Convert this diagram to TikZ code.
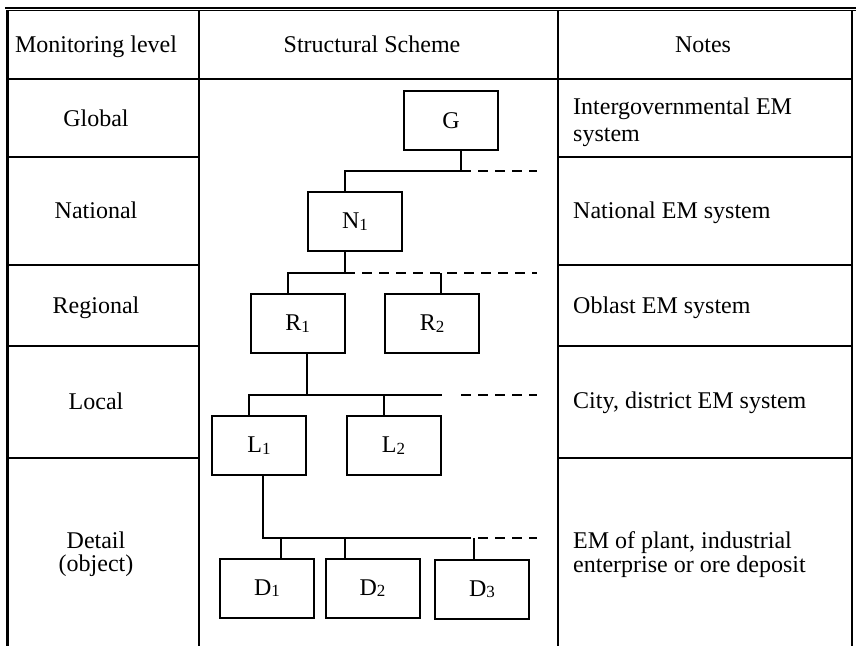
\documentclass[tikz,border=0pt]{standalone}
\usepackage{fontspec}
\setmainfont{Liberation Serif}
\usetikzlibrary{calc}
% small lowered index digit used in the unit names
\newcommand{\idx}[1]{\raisebox{-1.5pt}{\fontsize{17}{17}\selectfont #1}}
\begin{document}
\begin{tikzpicture}[x=1pt,y=-1pt,
  every node/.style={inner sep=0pt},
  txt/.style={font=\fontsize{24}{27}\selectfont},
  txtb/.style={font=\fontsize{24}{23.5}\selectfont},
  unit/.style={draw, line width=2pt, minimum width=94pt, minimum height=59pt,
    font=\fontsize{24}{27}\selectfont},
  link/.style={line width=2pt},
  dashline/.style={line width=2pt, dash pattern=on 10pt off 7pt},
  rule/.style={line width=2pt}]
\useasboundingbox (0,0) rectangle (856,646);
\fill[white] (0,0) rectangle (856,646);

% ---- table frame ----
\draw[line width=2.3pt] (5,7.8) -- (856,7.8);
\draw[line width=1.3pt] (7,10.7) -- (856,10.7);
\draw[line width=3pt] (7.5,10) -- (7.5,646);
\draw[rule] (7.5,79) -- (852,79);
\draw[rule] (199,10.7) -- (199,646);
\draw[rule] (557.5,10.7) -- (557.5,646);
\draw[rule] (852,10.7) -- (852,646);
\foreach \yy in {157,264.5,346,458}{
  \draw[rule] (7.5,\yy) -- (199,\yy);
  \draw[rule] (557.5,\yy) -- (852,\yy);
}

% ---- header ----
\node[txt, anchor=base] (hLevel) at (96,52) {Monitoring level};
\node[txt, anchor=base] (hScheme) at (372,52) {Structural Scheme};
\node[txt, anchor=base] (hNotes) at (703,52) {Notes};

% ---- monitoring levels ----
\node[txt, anchor=base] (lvG) at (96,126) {Global};
\node[txt, anchor=base] (lvN) at (96,218) {National};
\node[txt, anchor=base] (lvR) at (96,313) {Regional};
\node[txt, anchor=base] (lvL) at (96,409) {Local};
\node[txtb, anchor=north, align=center] (lvD) at (96,531.6) {Detail\\(object)};

% ---- notes ----
\node[txt, anchor=north west, align=left] (ntG) at (573,97.6) {Intergovernmental EM\\system};
\node[txt, anchor=base west] (ntN) at (573,218) {National EM system};
\node[txt, anchor=base west] (ntR) at (573,313) {Oblast EM system};
\node[txt, anchor=base west] (ntL) at (573,408) {City, district EM system};
\node[txtb, anchor=north west, align=left] (ntD) at (573,531.6) {EM of plant, industrial\\enterprise or ore deposit};

% ---- structural scheme: units ----
\node[unit] (G)  at (451,120.5) {G};
\node[unit] (N1) at (355,221.5) {N\idx{1}};
\node[unit] (R1) at (297.5,323.5) {R\idx{1}};
\node[unit] (R2) at (432,323.5) {R\idx{2}};
\node[unit] (L1) at (259,445.5) {L\idx{1}};
\node[unit] (L2) at (393.5,445.5) {L\idx{2}};
\node[unit] (D1) at (267,588) {D\idx{1}};
\node[unit] (D2) at (372.5,588) {D\idx{2}};
\node[unit] (D3) at (482,589) {D\idx{3}};

% ---- bus under G ----
\coordinate (j1)  at (461,171);
\coordinate (j1w) at (345,171);
\coordinate (j1e) at (537,171);
\draw[link] (G.south -| j1) -- (j1) -- (j1w) -- (N1.north -| j1w);
\draw[dashline] (j1) -- (j1e);

% ---- bus under N1 ----
\coordinate (j2)  at (345,273);
\coordinate (j2w) at (288,273);
\coordinate (j2r) at (441,273);
\coordinate (j2e) at (537,273);
\draw[link] (N1.south -| j2) -- (j2) -- (j2w) -- (R1.north -| j2w);
\draw[dashline] (j2) -- (j2e);
\draw[link] (j2r) -- (R2.north -| j2r);

% ---- bus under R1 ----
\coordinate (j3)  at (307,395);
\coordinate (j3w) at (249,395);
\coordinate (j3r) at (384,395);
\coordinate (j3e) at (442,395);
\coordinate (j3a) at (461,395);
\coordinate (j3b) at (537,395);
\draw[link] (R1.south -| j3) -- (j3);
\draw[link] (L1.north -| j3w) -- (j3w) -- (j3e);
\draw[link] (j3r) -- (L2.north -| j3r);
\draw[dashline] (j3a) -- (j3b);

% ---- bus under L1 ----
\coordinate (j4)  at (263,538);
\coordinate (j4e) at (467,538);
\coordinate (j4a) at (461,538);
\coordinate (j4b) at (537,538);
\coordinate (t1)  at (281,538);
\coordinate (t2)  at (345,538);
\coordinate (t3)  at (474,538);
\draw[link] (L1.south -| j4) -- (j4) -- (j4e);
\draw[dashline] (j4a) -- (j4b);
\draw[link] (t1) -- (D1.north -| t1);
\draw[link] (t2) -- (D2.north -| t2);
\draw[link] (t3) -- (D3.north -| t3);
\end{tikzpicture}
\end{document}
